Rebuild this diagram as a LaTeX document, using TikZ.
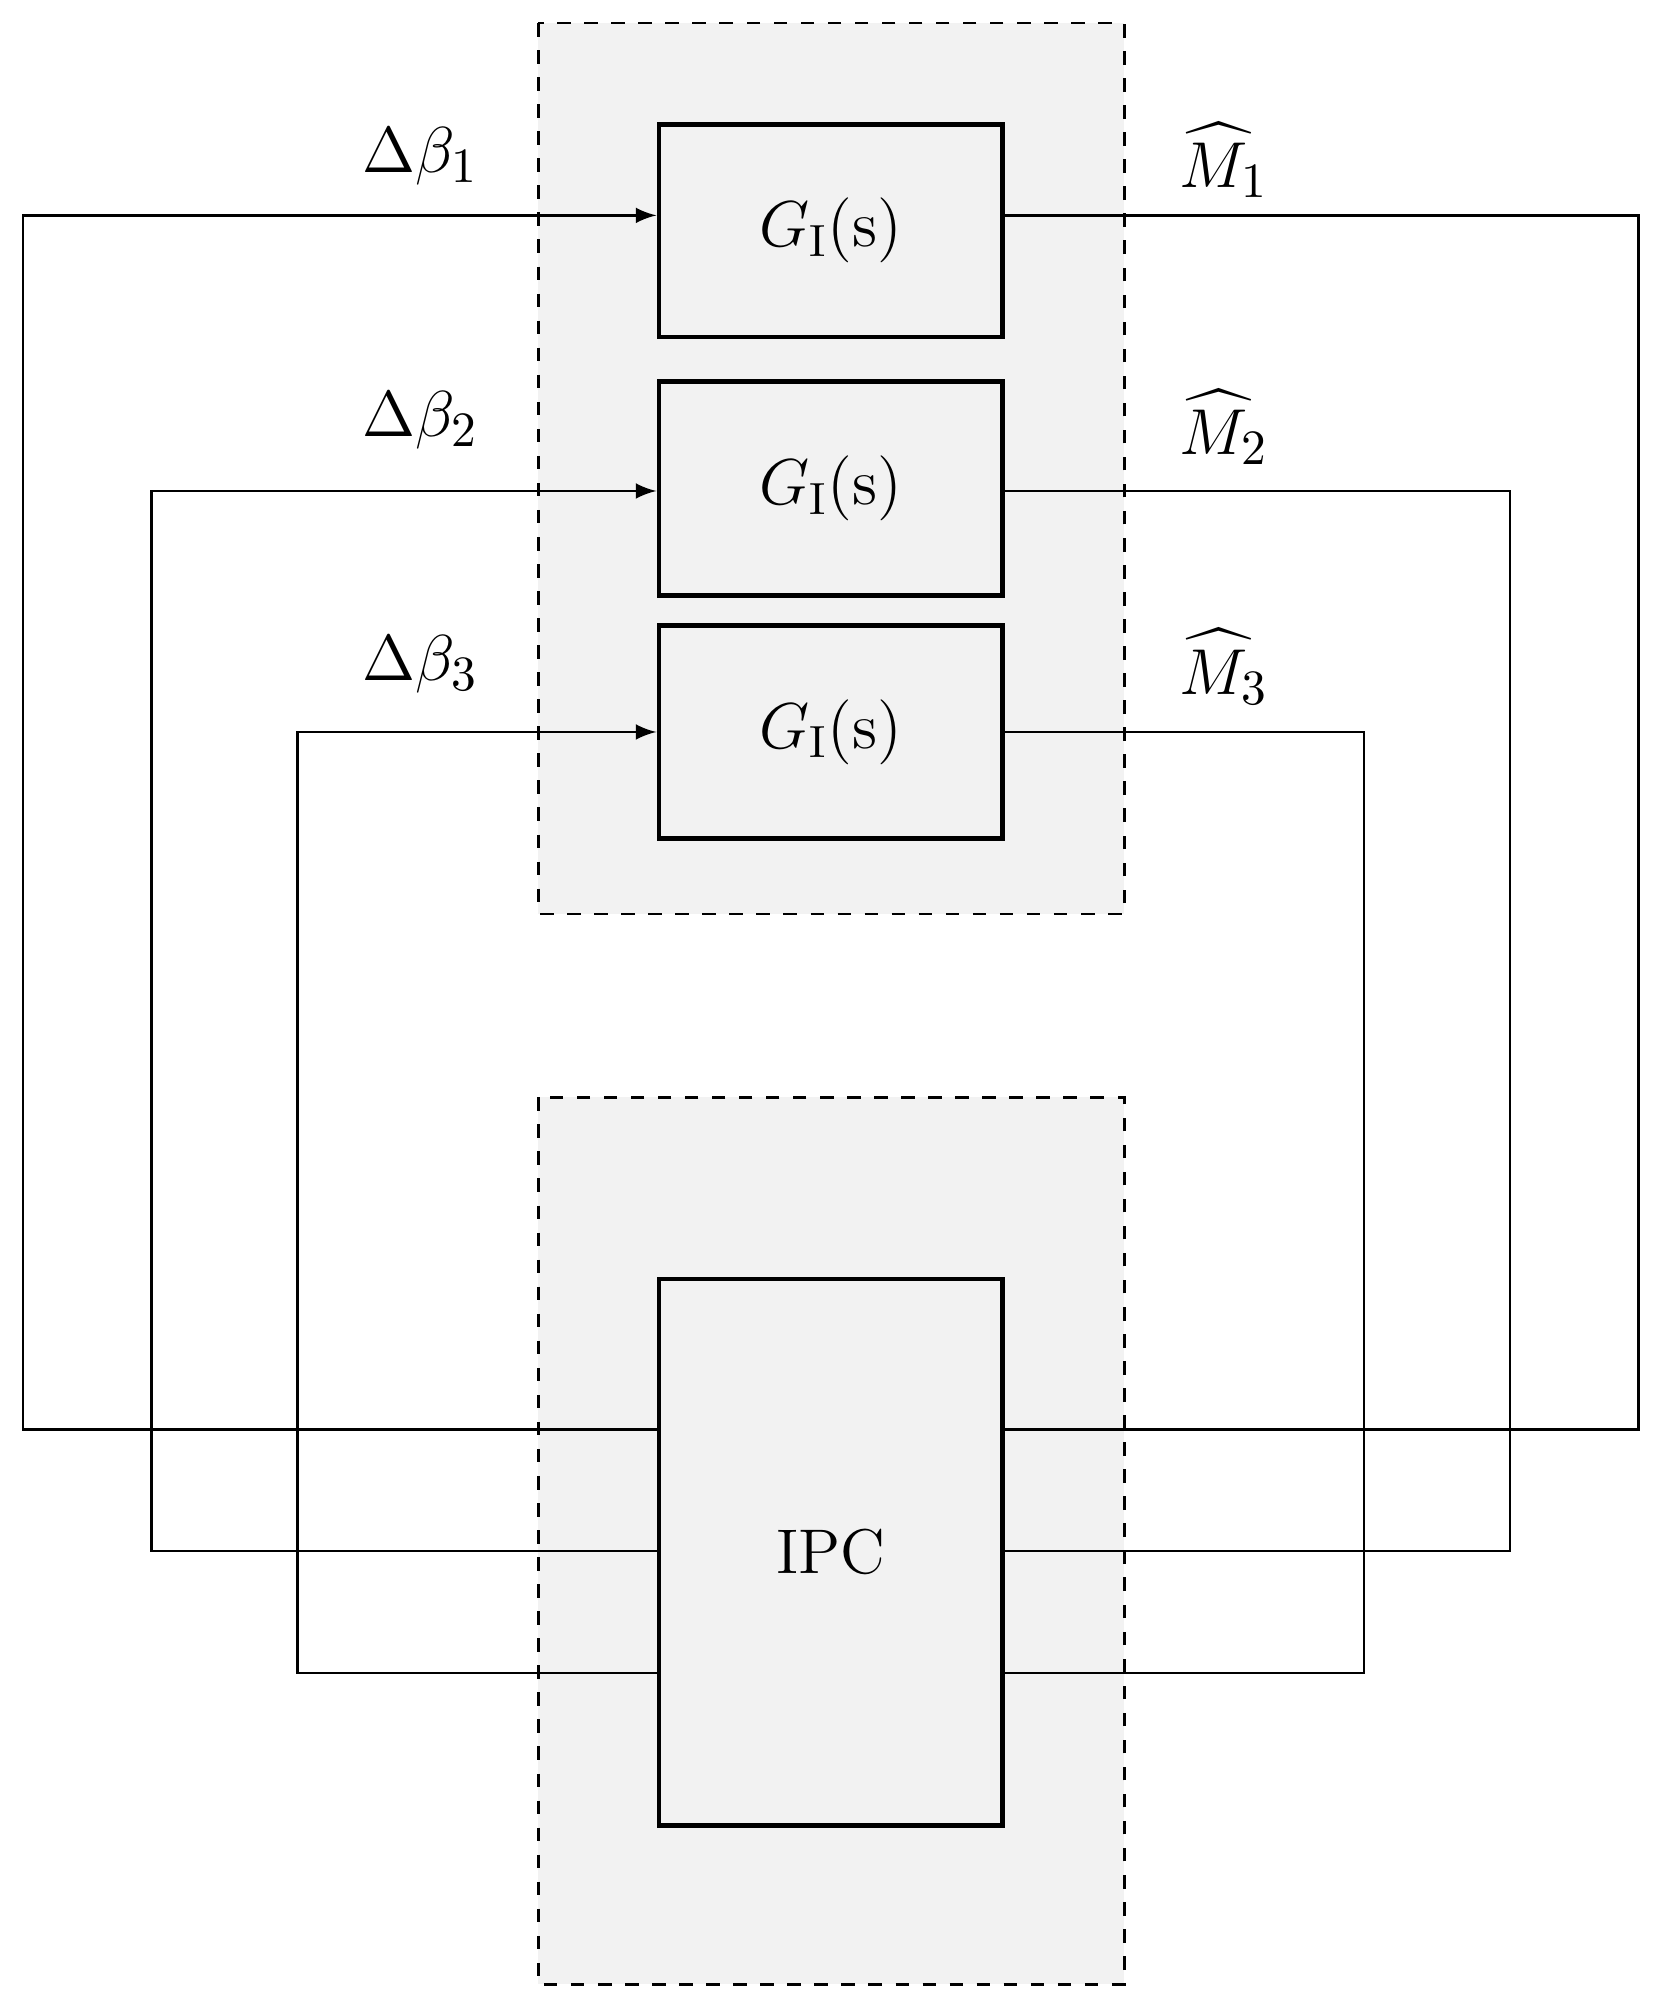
\documentclass[tikz,border=0pt]{standalone}
\usepackage{amsmath}
\usepackage{tikz}
\usetikzlibrary{arrows,positioning,backgrounds}

\begin{document}
\begin{tikzpicture}[x=0.01cm, y=-0.01cm]
  \tikzstyle{block}=[rectangle, draw, line width=1pt, fill=gray!10, minimum width=2.68cm, font=\fontsize{14}{16}\selectfont]
  \tikzstyle{group}=[draw, dashed, line width=0.6pt, fill=gray!10]
  \tikzstyle{signal}=[line width=0.6pt]
  \tikzstyle{feed}=[signal, -latex]
  \tikzstyle{lbl}=[font=\fontsize{15}{17}\selectfont]

  \useasboundingbox (0,0) rectangle (1300,1568);

  % dashed groups
  \draw[group] (420,18) rectangle (877,713);
  \draw[group] (420,856) rectangle (877,1548);

  % plant blocks
  \node[block, minimum height=1.66cm] (g1) at (648,180) {$G_{\mathrm{I}}(\mathrm{s})$};
  \node[block, minimum height=1.67cm] (g2) at (648,381) {$G_{\mathrm{I}}(\mathrm{s})$};
  \node[block, minimum height=1.66cm] (g3) at (648,571) {$G_{\mathrm{I}}(\mathrm{s})$};

  % controller
  \node[block, minimum height=4.26cm] (ipc) at (648,1211) {IPC};

  % corner points
  \coordinate (a1) at (18,168);   \coordinate (b1) at (18,1115);
  \coordinate (a2) at (118,383);  \coordinate (b2) at (118,1210);
  \coordinate (a3) at (232,571);  \coordinate (b3) at (232,1305);
  \coordinate (c1) at (1278,168); \coordinate (d1) at (1278,1115);
  \coordinate (c2) at (1178,383); \coordinate (d2) at (1178,1210);
  \coordinate (c3) at (1064,571); \coordinate (d3) at (1064,1305);

  % pitch commands into the plant
  \draw[feed] (ipc.west |- b1) -- (b1) -- (a1) -- (g1.west |- a1);
  \draw[feed] (ipc.west |- b2) -- (b2) -- (a2) -- (g2.west |- a2);
  \draw[feed] (ipc.west |- b3) -- (b3) -- (a3) -- (g3.west |- a3);

  % moment feedback
  \draw[signal] (g1.east |- c1) -- (c1) -- (d1) -- (ipc.east |- d1);
  \draw[signal] (g2.east |- c2) -- (c2) -- (d2) -- (ipc.east |- d2);
  \draw[signal] (g3.east |- c3) -- (c3) -- (d3) -- (ipc.east |- d3);

  % labels
  \node[lbl] (db1) at (328,122) {$\Delta\beta_1$};
  \node[lbl] (db2) at (328,328) {$\Delta\beta_2$};
  \node[lbl] (db3) at (328,518) {$\Delta\beta_3$};
  \node[lbl] (m1) at (955,125) {$\widehat{M}_1$};
  \node[lbl] (m2) at (955,333) {$\widehat{M}_2$};
  \node[lbl] (m3) at (955,520) {$\widehat{M}_3$};
\end{tikzpicture}
\end{document}
